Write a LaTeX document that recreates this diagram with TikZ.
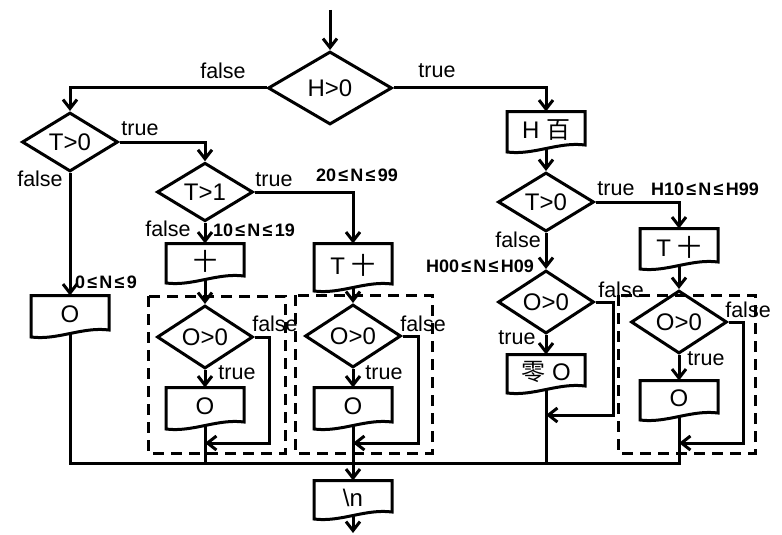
\documentclass[tikz,border=0pt]{standalone}
\usepackage{fontspec}
\setmainfont{Liberation Sans}
\newfontfamily\cjk{Noto Sans CJK SC}
\usetikzlibrary{shapes.geometric,arrows.meta,calc}
\newcommand\LE{\makebox[0.8em]{≤}}
\newcommand\docoutline[1]{%
  \draw (#1.north east) -- (#1.north west) -- ($(#1.south west)+(0pt,-3.5pt)$)
    .. controls ($(#1.south)+(-12.5pt,-7pt)$) and ($(#1.south)+(12.5pt,7pt)$) ..
    ($(#1.south east)+(0pt,3.5pt)$) -- cycle;}
\begin{document}
\begin{tikzpicture}[x=1pt,y=-1pt,line width=3pt,
  dec/.style={diamond, draw, inner sep=0pt, minimum width=96pt, minimum height=54pt,
    font=\fontsize{24}{26}\selectfont},
  doc/.style={rectangle, inner sep=0pt, minimum width=75pt, minimum height=34pt,
    font=\fontsize{24}{26}\selectfont},
  arr/.style={-{Straight Barb[length=9pt,width=14pt]}},
  lbl/.style={font=\fontsize{21.5}{24}\selectfont, inner sep=0pt},
  cond/.style={font=\fontsize{18}{20}\selectfont\bfseries, inner sep=0pt},
  dashbox/.style={dash pattern=on 11pt off 7pt},
]
\useasboundingbox (0,0) rectangle (782,535);

% decisions
\node[dec, minimum width=124pt, minimum height=73pt] (H0) at (330,88) {H>0};
\node[dec] (T0L) at (70,142) {T>0};
\node[dec] (T1) at (205,192) {T>1};
\node[dec] (O1) at (205,337) {O>0};
\node[dec] (O2) at (353,336) {O>0};
\node[dec] (T0R) at (546,202) {T>0};
\node[dec] (O3) at (546,302) {O>0};
\node[dec] (O4) at (679,322) {O>0};

% output boxes
\node[doc] (Hb) at (546,130) {H {\cjk 百}};
\node[doc, minimum height=33pt] (ten) at (205,261.5) {{\cjk 十}};
\node[doc, minimum height=35pt] (OL) at (70,314.5) {O};
\node[doc, minimum height=35pt] (Ob1) at (205,406.5) {O};
\node[doc, minimum height=41pt] (Tten) at (353,265.5) {T {\cjk 十}};
\node[doc, minimum height=35pt] (Ob2) at (353,406.5) {O};
\node[doc, minimum height=32pt] (ling) at (546,372) {{\cjk 零} O};
\node[doc] (TtenR) at (679,247) {T {\cjk 十}};
\node[doc, minimum height=33pt] (Ob4) at (679,398.5) {O};
\node[doc, minimum height=32pt] (nl) at (353,498) {\textbackslash n};
\foreach \n in {Hb,ten,OL,Ob1,Tten,Ob2,ling,TtenR,Ob4,nl} {\docoutline{\n}}

% dashed groups
\draw[dashbox] (148,296) rectangle (285,453);
\draw[dashbox] (295,295) rectangle (432,453);
\draw[dashbox] (618,295) rectangle (755,453);

% helper coordinates
\coordinate (start) at (330,10);
\coordinate (stop) at (353,533);
\coordinate (r1) at (269,443); \coordinate (j1) at (205,443);
\coordinate (r2) at (418,443); \coordinate (j2) at (353,443);
\coordinate (r3) at (613,415); \coordinate (j3) at (546,415);
\coordinate (r4) at (743,443); \coordinate (j4) at (679,443);
\coordinate (c1) at (205,463); \coordinate (c3) at (546,463);
\coordinate (c4) at (679,463);

% connectors
\draw[arr] (start) -- (H0.north);
\draw[arr] (H0.west) -| (T0L.north);
\draw[arr] (H0.east) -| (Hb.north);
\draw[arr] (T0L.east) -| (T1.north);
\draw[arr] (T0L.south) -- (OL.north);
\draw[arr] (T1.east) -| (Tten.north);
\draw[arr] (T1.south) -- (ten.north);
\draw[arr] (ten.south) -- (O1.north);
\draw[arr] (O1.south) -- (Ob1.north);
\draw[arr] (O1.east) -| (r1) -- (j1);
\draw (Ob1.south) -- (c1);
\draw[arr] (Tten.south) -- (O2.north);
\draw[arr] (O2.south) -- (Ob2.north);
\draw[arr] (O2.east) -| (r2) -- (j2);
\draw[arr] (Ob2.south) -- (nl.north);
\draw[arr] (nl.south) -- (stop);
\draw[arr] (Hb.south) -- (T0R.north);
\draw[arr] (T0R.east) -| (TtenR.north);
\draw[arr] (T0R.south) -- (O3.north);
\draw[arr] (O3.south) -- (ling.north);
\draw[arr] (O3.east) -| (r3) -- (j3);
\draw (ling.south) -- (c3);
\draw[arr] (TtenR.south) -- (O4.north);
\draw[arr] (O4.south) -- (Ob4.north);
\draw[arr] (O4.east) -| (r4) -- (j4);
\draw (OL.south) |- (c4) -- (Ob4.south);

% labels
\node[lbl] (fH) at (223,71) {false};
\node[lbl] (tH) at (437,71) {true};
\node[lbl] (tT0L) at (140,129) {true};
\node[lbl] (fT0L) at (40,179) {false};
\node[cond] (c09) at (106,282) {0\LE N\LE 9};
\node[lbl] (tT1) at (274,180) {true};
\node[cond] (c2099) at (357,175) {20\LE N\LE 99};
\node[lbl] (fT1) at (168,229) {false};
\node[cond] (c1019) at (254,230) {10\LE N\LE 19};
\node[lbl] (fO1) at (275,324) {false};
\node[lbl] (tO1) at (237,373) {true};
\node[lbl] (fO2) at (423,324) {false};
\node[lbl] (tO2) at (384,373) {true};
\node[lbl] (tT0R) at (616,189) {true};
\node[cond] (cH1099) at (705,189) {H10\LE N\LE H99};
\node[lbl] (fT0R) at (518,240) {false};
\node[cond] (cH0009) at (480,266) {H00\LE N\LE H09};
\node[lbl] (fO3) at (621,290) {false};
\node[lbl] (tO3) at (517,338) {true};
\node[lbl] (fO4) at (748,310) {false};
\node[lbl] (tO4) at (706,359) {true};
\end{tikzpicture}
\end{document}
